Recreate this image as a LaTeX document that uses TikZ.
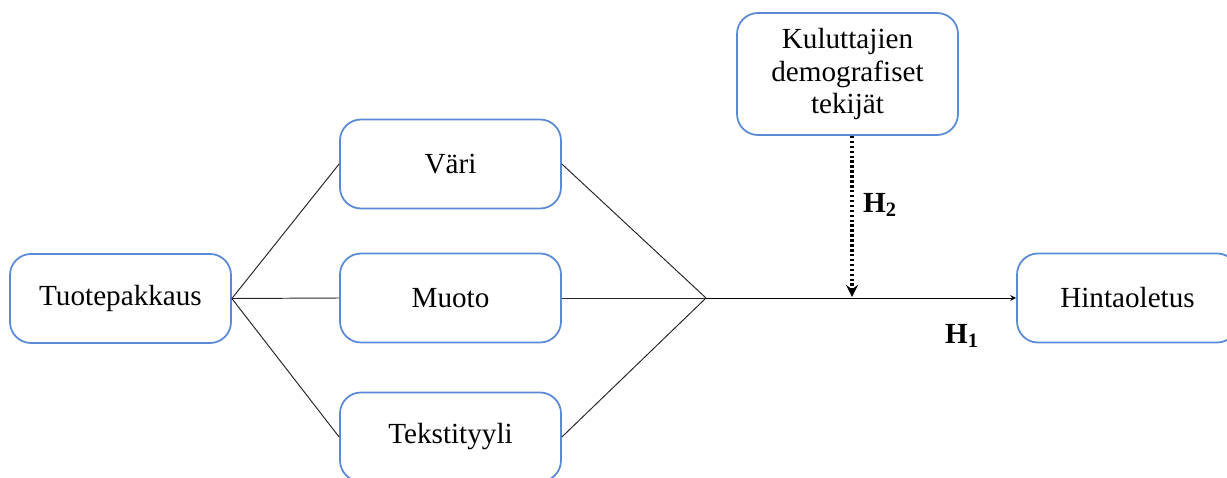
\documentclass[tikz,border=0pt]{standalone}
\usepackage{fontspec}
\setmainfont{Liberation Serif}
\usetikzlibrary{arrows}

\definecolor{boxblue}{RGB}{90,138,214}

\begin{document}
\begin{tikzpicture}[
    box/.style={rectangle, rounded corners=0.42cm, draw=boxblue, line width=1pt, minimum width=4.42cm, minimum height=1.78cm, align=center, font=\fontsize{16.6}{18.7}\selectfont},
    link/.style={draw=black!85, line width=0.55pt},
    arrow/.style={->, >=stealth, line width=0.5pt},
    dotarrow/.style={->, >=stealth, dash pattern=on 1.4pt off 1.4pt, line width=2pt},
    hyp/.style={font=\fontsize{16.6}{18}\selectfont\bfseries}
]
\clip (0,0) rectangle (24.54,-9.56);

% Lähtö ja välittäjät
\node[box] (tuote) at (2.41,-5.97) {Tuotepakkaus};

\node[box] (vari) at (9.01,-3.28) {Väri};
\node[box] (muoto) at (9.01,-5.96) {Muoto};
\node[box] (teksti) at (9.01,-8.74) {Tekstityyli};

% Moderaattori ja tulos
\node[box, minimum height=2.44cm] (demo) at (16.95,-1.48) {Kuluttajien\\demografiset\\tekijät};
\node[box] (hinta) at (22.55,-5.96) {Hintaoletus};

\coordinate (join) at (14.12,-5.96);
\coordinate (hit) at (17.04,-5.94);

% Yhteydet
\draw[link] (tuote.east) -- (vari.west);
\draw[link] (tuote.east) -- (muoto.west);
\draw[link] (tuote.east) -- (teksti.west);

\draw[link] (vari.east) -- (join);
\draw[link] (muoto.east) -- (join);
\draw[link] (teksti.east) -- (join);

\draw[arrow, scale=1] (join) -- (hinta.west);
\draw[dotarrow] (demo.south -| hit) -- (hit);

% Hypoteesit
\node[hyp] (h2) at (17.6,-4.1) {H\textsubscript{2}};
\node[hyp] (h1) at (19.24,-6.72) {H\textsubscript{1}};

\end{tikzpicture}
\end{document}
